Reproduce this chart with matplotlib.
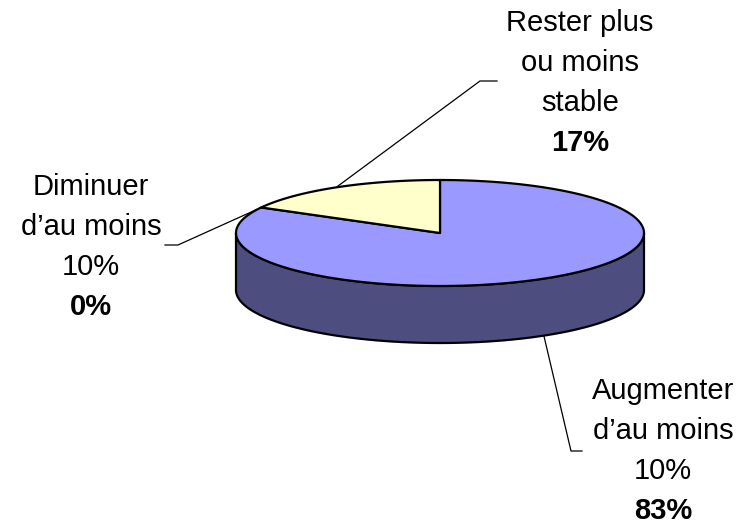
import numpy as np
import matplotlib.pyplot as plt
from matplotlib.patches import Polygon

plt.rcParams['font.family'] = ['Liberation Sans', 'DejaVu Sans']

# data, in drawing order (clockwise from 12 o'clock)
labels = ["Augmenter\nd\u2019au moins\n10%", "Diminuer\nd\u2019au moins\n10%", "Rester plus\nou moins\nstable"]
values = [83, 0, 17]
top_colors = ['#9999FF', '#993366', '#FFFFCC']
side_colors = ['#4D4D80', '#4D1A33', '#808066']

# layout (pixels)
cx, cy, rx, ry, depth = 440, 233, 204, 53, 57
label_pos = [(663, 451), (91, 247), (580, 83)]
elbow = [(571, 451, 582), (178, 245, 165), (480, 81, 497)]

fig = plt.figure(figsize=(7.44, 5.27), dpi=100)
ax = fig.add_axes([0, 0, 1, 1])
ax.set_xlim(0, 744)
ax.set_ylim(527, 0)
ax.axis('off')


def pt(a, dy=0):
    r = np.radians(a)
    return cx + rx * np.cos(r), cy - ry * np.sin(r) + dy


def arc(a0, a1, dy=0, n=200):
    t = np.linspace(a0, a1, n)
    x, y = pt(t, dy)
    return np.column_stack([x, y])


total = sum(values)
starts = []
a = 90.0
for v in values:
    starts.append((a, a - v / total * 360))
    a -= v / total * 360

# side walls (front half only)
for (a0, a1), col in zip(starts, side_colors):
    lo, hi = max(a1, -180), min(a0, 0)
    if hi > lo:
        top = arc(lo, hi)
        bot = arc(hi, lo, depth)
        ax.add_patch(Polygon(np.vstack([top, bot]), closed=True, fc=col, ec='black', lw=1.6, zorder=2))

# top faces
for (a0, a1), col, v in zip(starts, top_colors, values):
    if v == 0:
        continue
    pts = np.vstack([[[cx, cy]], arc(a1, a0)])
    ax.add_patch(Polygon(pts, closed=True, fc=col, ec='black', lw=1.6, zorder=3, joinstyle='round'))

# labels and leader lines
for (a0, a1), lab, v, (lx, ly), (ex, ey, ex2) in zip(starts, labels, values, label_pos, elbow):
    mid = (a0 + a1) / 2
    s = np.sin(np.radians(mid))
    px, py = pt(mid, depth if s < 0 else 0)
    ax.plot([px, ex, ex2], [py, ey, ey], color='black', lw=0.9, zorder=1)
    lines = lab.split('\n')
    for i, line in enumerate(lines):
        ax.text(lx, ly - 60 + 40 * i, line, ha='center', va='center', fontsize=21)
    ax.text(lx, ly + 60, f"{v}%", ha='center', va='center', fontsize=21, fontweight='bold')

fig.savefig('out.png', dpi=100)
